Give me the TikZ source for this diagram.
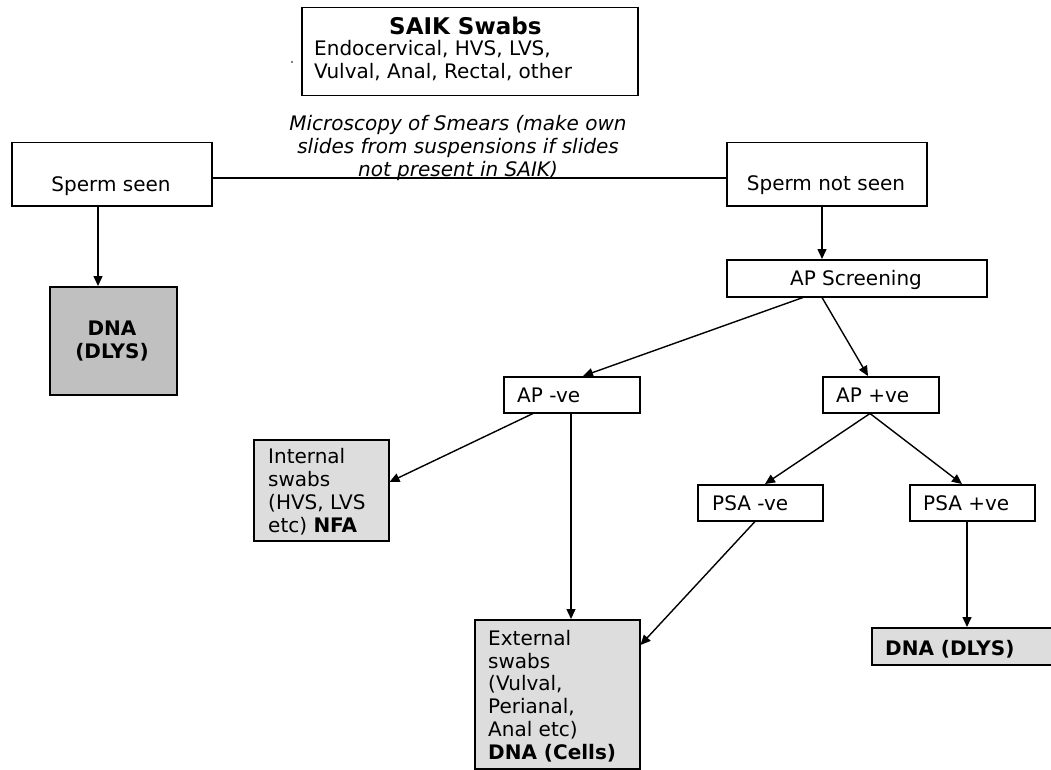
\documentclass[tikz,border=0pt]{standalone}
\usepackage{fontspec}
\setmainfont{DejaVu Sans}
\usetikzlibrary{arrows.meta,calc}
\definecolor{darkfill}{HTML}{C0C0C0}
\definecolor{lightfill}{HTML}{DDDDDD}
\begin{document}
\begin{tikzpicture}[x=1pt,y=-1pt,
  box/.style={draw, line width=1.5pt, inner sep=0pt, anchor=north west},
  txt/.style={inner sep=0pt, font=\fontsize{20}{23}\selectfont},
  itx/.style={inner sep=0pt, font=\fontsize{20}{22.5}\selectfont\itshape},
  conn/.style={line width=1.4pt},
  arr/.style={line width=1.4pt, -{Triangle[length=10pt,width=9pt]}}]
\useasboundingbox (0,0) rectangle (1051,770);
% boxes
\node[box, minimum width=336, minimum height=88] (saik) at (301,7) {};
\node[box, minimum width=200, minimum height=63] (seen) at (11,142) {};
\node[box, minimum width=200, minimum height=63] (notseen) at (726,142) {};
\node[box, fill=darkfill, minimum width=127, minimum height=108] (dnaL) at (49,286) {};
\node[box, minimum width=260, minimum height=37] (apscr) at (726,259) {};
\node[box, minimum width=136, minimum height=36] (apneg) at (503,376) {};
\node[box, minimum width=116, minimum height=36] (appos) at (822,376) {};
\node[box, fill=lightfill, minimum width=135, minimum height=101] (internal) at (253,439) {};
\node[box, minimum width=125, minimum height=36] (psaneg) at (697,484) {};
\node[box, minimum width=125, minimum height=36] (psapos) at (909,484) {};
\node[box, fill=lightfill, minimum width=165, minimum height=149] (external) at (474,619) {};
\node[box, fill=lightfill, minimum width=200, minimum height=37] (dnaR) at (871,627) {};
% texts (multi-line nodes are anchored at the baseline of their last line)
\node[txt, anchor=base west, font=\fontsize{23}{25}\selectfont\bfseries] (saikt) at (389,35) {SAIK Swabs};
\node[txt, anchor=base west, align=left] (saikl) at (314,79) {Endocervical, HVS, LVS,\\Vulval, Anal, Rectal, other};
\node[inner sep=0pt, circle, fill=black, minimum size=1.6pt] (dot) at (292,62) {};
\node[itx, anchor=base, align=center] (micro) at (458,176) {Microscopy of Smears (make own\\slides from suspensions if slides\\not present in SAIK)};
\node[txt, anchor=base] (seent) at (111,191) {Sperm seen};
\node[txt, anchor=base] (notseent) at (826,190) {Sperm not seen};
\node[txt, anchor=base, align=center, font=\fontsize{20}{23}\selectfont\bfseries] (dnaLt) at (112,358) {DNA\\(DLYS)};
\node[txt, anchor=base] (apscrt) at (856,285) {AP Screening};
\node[txt, anchor=base west] (apnegt) at (517,402) {AP -ve};
\node[txt, anchor=base west] (appost) at (836,402) {AP +ve};
\node[txt, anchor=base west] (psanegt) at (712,510) {PSA -ve};
\node[txt, anchor=base west] (psapost) at (923,510) {PSA +ve};
\node[txt, anchor=base west, align=left] (internalt) at (268,532) {Internal\\swabs\\(HVS, LVS\\etc) \textbf{NFA}};
\node[txt, anchor=base west, align=left, font=\fontsize{20}{22.7}\selectfont] (externalt) at (488,759) {External\\swabs\\(Vulval,\\Perianal,\\Anal etc)\\\textbf{DNA (Cells)}};
\node[txt, anchor=base west, font=\fontsize{20}{23}\selectfont\bfseries] (dnaRt) at (885,655) {DNA (DLYS)};
% connectors
\draw[conn] ($(seen.north east)+(0,36)$) -- ($(notseen.north west)+(0,36)$);
\draw[arr] ($(seen.south west)+(87,0)$) -- ($(dnaL.north west)+(49,0)$);
\draw[arr] ($(notseen.south west)+(96,0)$) -- ($(apscr.north west)+(96,0)$);
\draw[arr] ($(apscr.south west)+(77,0)$) -- ($(apneg.north west)+(80,0)$);
\draw[arr] ($(apscr.south west)+(96,0)$) -- ($(appos.north west)+(46,0)$);
\draw[arr] ($(apneg.south west)+(30,0)$) -- ($(internal.north east)+(0,43)$);
\draw[arr] ($(apneg.south west)+(68,0)$) -- ($(external.north west)+(97,0)$);
\draw[arr] ($(appos.south west)+(48,0)$) -- ($(psaneg.north west)+(68,0)$);
\draw[arr] ($(appos.south west)+(48,0)$) -- ($(psapos.north west)+(53,0)$);
\draw[arr] ($(psaneg.south west)+(58,0)$) -- ($(external.north east)+(0,26)$);
\draw[arr] ($(psapos.south west)+(58,0)$) -- ($(dnaR.north west)+(96,0)$);
\end{tikzpicture}
\end{document}
